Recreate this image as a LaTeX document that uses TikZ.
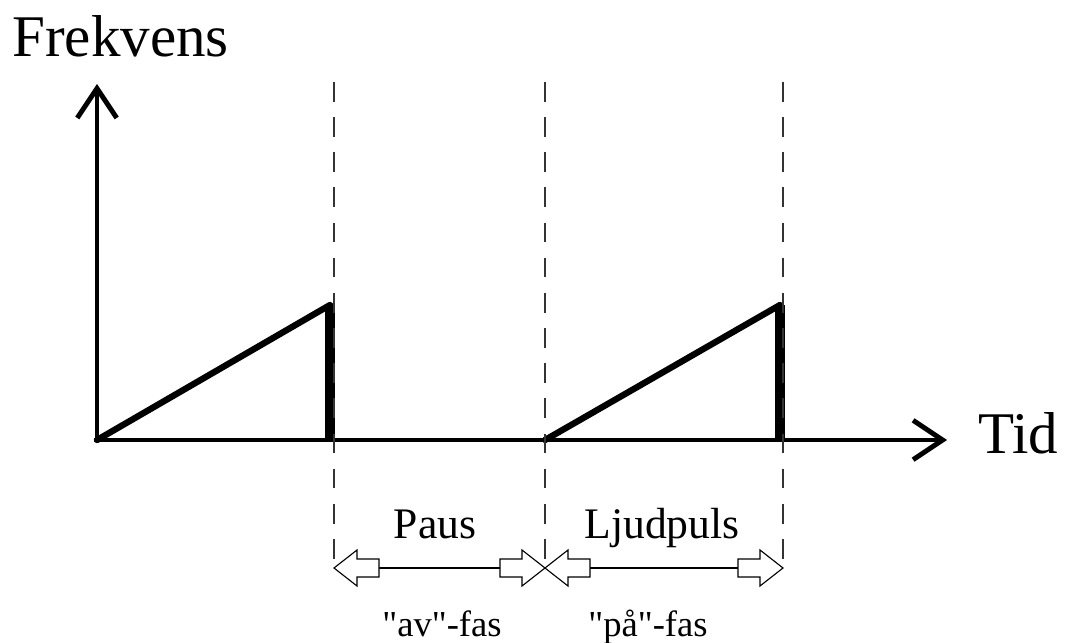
\documentclass[tikz,border=0pt]{standalone}
\usepackage{fontspec}
\setmainfont{Liberation Serif}[Ligatures=TeXOff]
\usetikzlibrary{arrows.meta}

\begin{document}
\begin{tikzpicture}[x=0.025cm,y=-0.025cm]
  \useasboundingbox (0,0) rectangle (1066,643);
  \tikzset{
    axis/.style={line width=3.5pt,-{Straight Barb[length=21pt,width=28pt,line width=3.5pt]}},
    ramp/.style={line width=4.5pt,line cap=round},
    edge/.style={line width=7pt},
    guide/.style={line width=1pt,dash pattern=on 14pt off 11pt,black!80},
    span/.style={line width=1pt},
    blockend/.pic={
      \draw[line width=0.8pt,fill=white]
        (0,0) -- (23,-18) -- (23,-9) -- (45,-9) -- (45,9) -- (23,9) -- (23,18) -- cycle;
    }
  }
  \coordinate (O) at (97,440);       % Origin
  \coordinate (A) at (330,305);      % Top of first pulse
  \coordinate (B) at (545,440);      % Start of second pulse
  \coordinate (C) at (780,305);      % Top of second pulse

  % Axes
  \draw[axis] (97,442) -- (97,84);
  \draw[axis] (94,440) -- (947,440);

  % Axis labels
  \node[anchor=base west,inner sep=0pt,font=\fontsize{42}{50}\selectfont] (frek) at (12,57) {Frekvens};
  \node[anchor=base west,inner sep=0pt,font=\fontsize{42}{50}\selectfont] (tid) at (978,453) {Tid};

  % Pulses
  \draw[ramp] (O) -- (A);
  \draw[edge] (A) -- (A |- O);
  \draw[ramp] (B) -- (C);
  \draw[edge] (C) -- (C |- O);

  % Guide lines
  \draw[guide] (334,82) -- (334,568);
  \draw[guide] (545,82) -- (545,568);
  \draw[guide] (783,82) -- (783,568);

  % ---- Phases ----
  \coordinate (p1) at (334,568);
  \coordinate (p2) at (545,568);
  \coordinate (p3) at (783,568);

  % Pause
  \draw[span] (p1) -- (p2);
  \pic at (p1) {blockend};
  \pic[rotate=180] at (p2) {blockend};
  \node[anchor=base,inner sep=0pt,font=\fontsize{31}{36}\selectfont] (paus) at (435,538) {Paus};
  \node[anchor=base,inner sep=0pt,font=\fontsize{26}{30}\selectfont] (av) at (442,636) {"av"-fas};

  % Sound pulse
  \draw[span] (p2) -- (p3);
  \pic at (p2) {blockend};
  \pic[rotate=180] at (p3) {blockend};
  \node[anchor=base,inner sep=0pt,font=\fontsize{31}{36}\selectfont] (ljud) at (662,538) {Ljudpuls};
  \node[anchor=base,inner sep=0pt,font=\fontsize{26}{30}\selectfont] (paa) at (648,636) {"på"-fas};
\end{tikzpicture}
\end{document}
